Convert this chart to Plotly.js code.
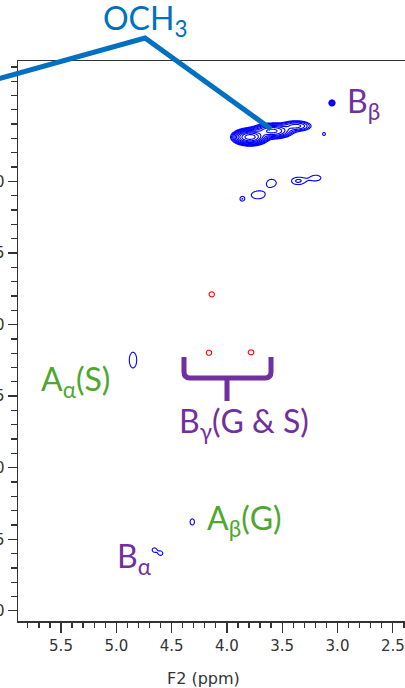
<!DOCTYPE html>
<html>
<head>
<meta charset="utf-8">
<script src="https://cdn.plot.ly/plotly-3.0.1.min.js"></script>
<style>
  html, body { margin: 0; padding: 0; background: #fff; overflow: hidden; width: 405px; height: 688px; }
  #hsqc { position: absolute; left: -40px; top: 0; width: 480px; height: 688px; }
</style>
</head>
<body>
<div id="hsqc"></div>
<script>
// Cross-peaks of the HSQC spectrum (F2 = 1H ppm, F1 = 13C ppm)
// positive phase (CH / CH3), drawn blue
const posH   = [3.791, 3.592, 3.375, 3.050, 3.122, 3.595, 3.357, 3.194, 3.719, 3.863, 4.849, 4.313, 4.656, 4.599];
const posC   = [56.90, 56.48, 56.13, 54.52, 56.69, 60.09, 59.97, 59.76, 60.95, 61.23, 72.48, 83.79, 85.75, 85.98];
const posWH  = [0.063, 0.081, 0.072, 0.0145, 0.020, 0.058, 0.060, 0.060, 0.090, 0.020, 0.050, 0.027, 0.0235, 0.0235];
const posWC  = [0.23, 0.23, 0.196, 0.11, 0.157, 0.34, 0.26, 0.26, 0.40, 0.157, 0.82, 0.30, 0.18, 0.18];
const posAmp = [1.0, 0.4, 0.12, 0.12, 0.025, 0.025, 0.032, 0.026, 0.025, 0.025, 0.025, 0.026, 0.028, 0.028];
// negative phase (CH2), drawn red
const negH   = [4.137, 4.162, 3.782];
const negC   = [67.89, 71.97, 71.94];
const negWH  = [0.036, 0.036, 0.038];
const negWC  = [0.27, 0.27, 0.26];
const negAmp = [0.025, 0.025, 0.025];

// axis ticks
const f2Ticks = [5.5, 5.0, 4.5, 4.0, 3.5, 3.0, 2.5];
const f1Ticks = [60, 65, 70, 75, 80, 85, 90];

// plot box in page pixels
const BOX = { left: 18, right: 430, top: 61, bottom: 621 };
const px = x => (x - BOX.left) / (BOX.right - BOX.left);
const py = y => (BOX.bottom - y) / (BOX.bottom - BOX.top);

// sample the gaussian cross-peaks on a grid, in log scale
function surface(H, C, WH, WC, A, h0, h1, dh, c0, c1, dc) {
  const xs = [], ys = [], z = [];
  for (let h = h0; h <= h1; h += dh) xs.push(+h.toFixed(4));
  for (let c = c0; c <= c1; c += dc) ys.push(+c.toFixed(4));
  for (const c of ys) {
    const row = new Array(xs.length);
    for (let i = 0; i < xs.length; i++) {
      const h = xs[i];
      let s = 0;
      for (let k = 0; k < H.length; k++) {
        const u = (h - H[k]) / WH[k], v = (c - C[k]) / WC[k];
        const d = u * u + v * v;
        if (d < 60) s += A[k] * Math.exp(-0.5 * d);
      }
      row[i] = Math.log10(s + 1e-9);
    }
    z.push(row);
  }
  return { xs, ys, z };
}

// geometric contour levels from the noise floor upward
const levels = { start: Math.log10(0.02), end: 0.1, size: Math.log10(1.5) };

const pos = surface(posH, posC, posWH, posWC, posAmp, 2.85, 5.0, 0.006, 53.0, 87.5, 0.06);
const neg = surface(negH, negC, negWH, negWC, negAmp, 3.6, 4.35, 0.006, 66.5, 73.5, 0.06);

function contourTrace(s, color) {
  return {
    type: 'contour', x: s.xs, y: s.ys, z: s.z,
    autocontour: false, contours: Object.assign({ coloring: 'none' }, levels),
    line: { color: color, width: 1.1, smoothing: 0.4 },
    showscale: false, hoverinfo: 'skip'
  };
}

const tickFont = { family: 'DejaVu Sans', size: 15, color: '#333' };
const labelFont = (color) => ({ family: 'Lato', size: 32, color: color });
const BLUE = '#0070C0', PURPLE = '#7030A0', GREEN = '#4EA72E';

const xRange = [5.5 + (61 - BOX.left) / 110.6, 5.5 - (BOX.right - 61) / 110.6];
const yRange = [60 + (BOX.bottom - 181.4) / 14.314, 60 - (181.4 - BOX.top) / 14.314];

// curly brace under the Bγ pair and the OCH3 leader, in page pixels
function pathFrom(pts) {
  return pts.map(p => p[0] + px(p[1]).toFixed(4) + ',' + py(p[2]).toFixed(4)).join(' ');
}
const bracePath = pathFrom([
  ['M', 184, 357], ['L', 184, 372], ['Q', 184, 378], [' ', 190, 378], ['L', 265, 378],
  ['Q', 271, 378], [' ', 271, 372], ['L', 271, 357],
  ['M', 227, 378], ['L', 227, 401]
]);
const leaderPath = pathFrom([['M', -6, 80], ['L', 145, 38], ['L', 271, 129]]);

const layout = {
  width: 480, height: 688,
  margin: { l: 58, r: 10, t: 61, b: 67 },
  paper_bgcolor: '#fff', plot_bgcolor: '#fff',
  showlegend: false,
  xaxis: {
    range: xRange, tickmode: 'array', tickvals: f2Ticks, ticktext: f2Ticks.map(v => v.toFixed(1)),
    ticks: 'outside', ticklen: 10, tickwidth: 1.3, tickcolor: '#333',
    minor: { dtick: 0.1, tick0: 0, ticks: 'outside', ticklen: 5, tickwidth: 1.3, tickcolor: '#333' },
    showline: true, linecolor: '#333', linewidth: 1.5, mirror: true,
    showgrid: false, zeroline: false, tickfont: tickFont
  },
  yaxis: {
    range: yRange, tickmode: 'array', tickvals: f1Ticks, ticktext: f1Ticks.map(String),
    ticks: 'outside', ticklen: 9, tickwidth: 1.3, tickcolor: '#333',
    minor: { dtick: 1, tick0: 0, ticks: 'outside', ticklen: 6, tickwidth: 1.3, tickcolor: '#333' },
    showline: true, linecolor: '#333', linewidth: 1.5, mirror: true,
    showgrid: false, zeroline: false, tickfont: tickFont
  },
  shapes: [
    { type: 'path', xref: 'paper', yref: 'paper', path: leaderPath, line: { color: BLUE, width: 5 }, layer: 'above' },
    { type: 'path', xref: 'paper', yref: 'paper', path: bracePath, line: { color: PURPLE, width: 5 }, layer: 'above' }
  ],
  annotations: [
    { text: 'F2 (ppm)', xref: 'paper', yref: 'paper', x: px(203), y: py(678), xanchor: 'center', yanchor: 'middle', showarrow: false, font: { family: 'DejaVu Sans', size: 16, color: '#333' } },
    { text: 'OCH<sub>3</sub>', xref: 'paper', yref: 'paper', x: px(101), y: py(20), xanchor: 'left', yanchor: 'middle', showarrow: false, font: labelFont(BLUE) },
    { text: 'B<sub>β</sub>', xref: 'paper', yref: 'paper', x: px(345), y: py(103), xanchor: 'left', yanchor: 'middle', showarrow: false, font: labelFont(PURPLE) },
    { text: 'A<sub>α</sub>(S)', xref: 'paper', yref: 'paper', x: px(39), y: py(381), xanchor: 'left', yanchor: 'middle', showarrow: false, font: labelFont(GREEN) },
    { text: 'B<sub>γ</sub>(G &amp; S)', xref: 'paper', yref: 'paper', x: px(177), y: py(423), xanchor: 'left', yanchor: 'middle', showarrow: false, font: labelFont(PURPLE) },
    { text: 'A<sub>β</sub>(G)', xref: 'paper', yref: 'paper', x: px(205), y: py(520), xanchor: 'left', yanchor: 'middle', showarrow: false, font: labelFont(GREEN) },
    { text: 'B<sub>α</sub>', xref: 'paper', yref: 'paper', x: px(115), y: py(558), xanchor: 'left', yanchor: 'middle', showarrow: false, font: labelFont(PURPLE) }
  ]
};

Plotly.newPlot('hsqc', [contourTrace(pos, '#0000FF'), contourTrace(neg, '#FF0000')], layout, { staticPlot: true });
</script>
</body>
</html>
